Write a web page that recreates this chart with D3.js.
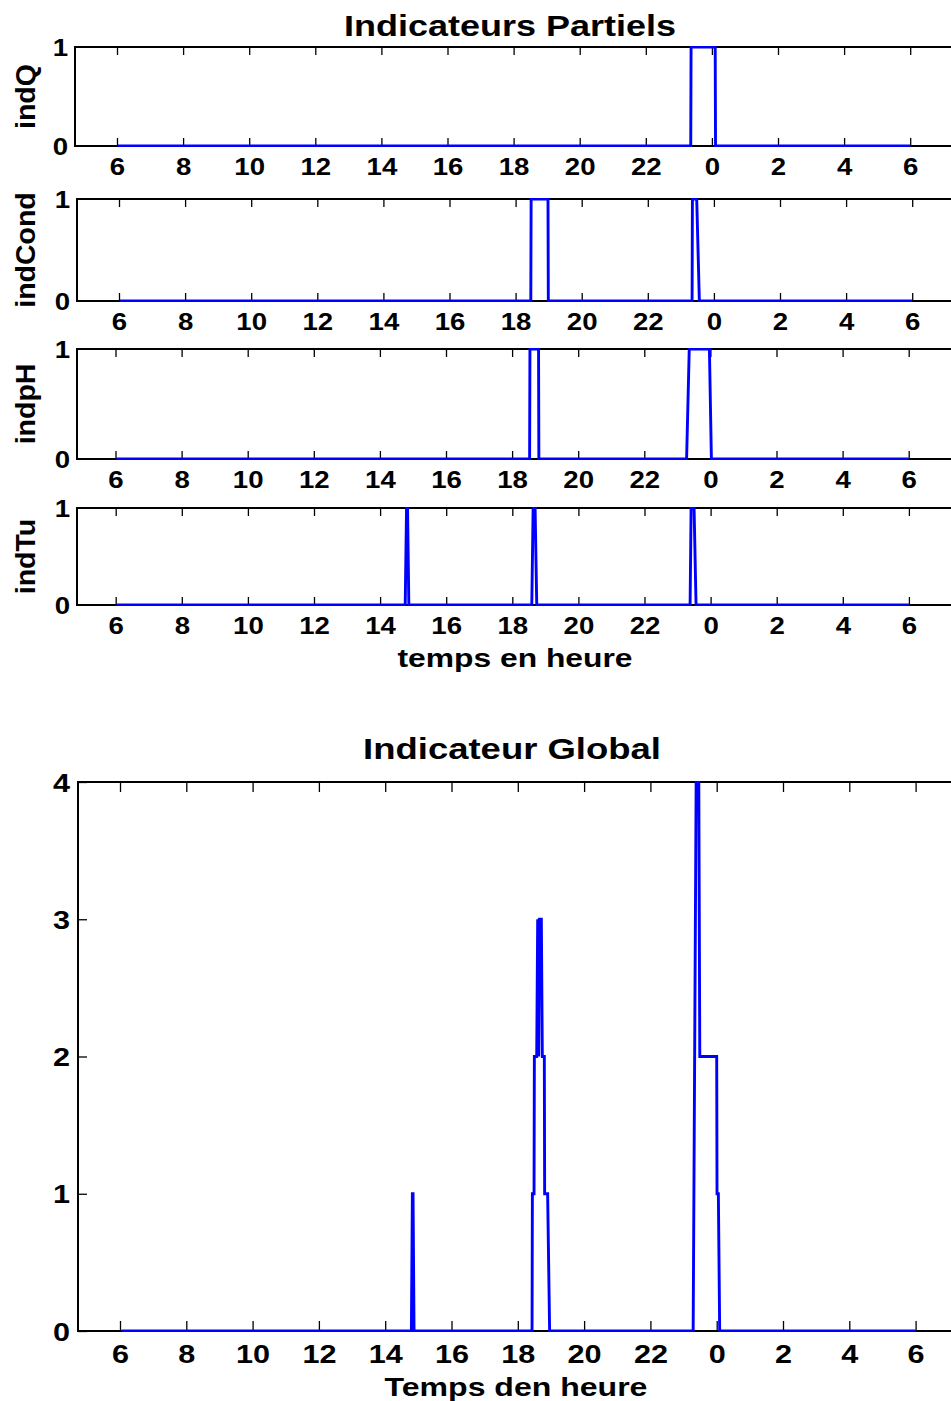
<!DOCTYPE html>
<html><head><meta charset="utf-8">
<script src="https://cdn.jsdelivr.net/npm/d3@7"></script>
<style>
body{margin:0;background:#fff}
svg text{font-family:"Liberation Sans",Arial,Helvetica,sans-serif;font-weight:bold;fill:#000}
</style>
</head><body>
<svg id="c" width="951" height="1401"></svg>
<script>
// ---- data (hours, continuous from 6h to 30h = 6h next day) ----
const tickHours  = [6, 8, 10, 12, 14, 16, 18, 20, 22, 24, 26, 28, 30];
const tickLabels = ["6","8","10","12","14","16","18","20","22","0","2","4","6"];
const partialNames = ["indQ", "indCond", "indpH", "indTu"];
const partialYTicks = [0, 1];
const globalYTicks = [0, 1, 2, 3, 4];

const indQ_t = [6.03, 23.36, 23.37, 24.10, 24.11, 30.0];
const indQ_v = [0,    0,     1,     1,     0,     0];

const indCond_t = [6.03, 18.46, 18.47, 18.98, 18.99, 23.34, 23.35, 23.48, 23.56, 30.0];
const indCond_v = [0,    0,     1,     1,     0,     0,     1,     1,     0,     0];

const indpH_t = [6.03, 18.53, 18.54, 18.80, 18.81, 23.28, 23.36, 23.97, 24.03, 30.0];
const indpH_v = [0,    0,     1,     1,     0,     0,     1,     1,     0,     0];

const indTu_t = [6.03, 14.76, 14.80, 14.83, 14.87, 18.59, 18.63, 18.69, 18.74, 23.38, 23.41, 23.50, 23.56, 30.0];
const indTu_v = [0,    0,     1,     1,     0,     0,     1,     1,     0,     0,     1,     1,     0,     0];

const global_t = [6.05, 14.79, 14.82, 14.84, 14.87, 18.43, 18.44, 18.49, 18.50, 18.57, 18.60, 18.63, 18.65, 18.71, 18.74,
                  18.80, 18.81, 18.90, 18.96, 23.29, 23.38, 23.46, 23.49, 24.00, 24.01, 24.05, 24.09, 30.0];
const global_v = [0,    0,     1,     1,     0,     0,     1,     1,     2,     2,     3,     2,     3,     3,     2,
                  2,     1,     1,     0,     0,     4,     4,     2,     2,     1,     1,     0,     0];

const partialSeries = [[indQ_t, indQ_v], [indCond_t, indCond_v], [indpH_t, indpH_v], [indTu_t, indTu_v]];

// ---- layout ----
const panels = [
  {left: 75, top: 47,  bottom: 146, x6: 117.0},
  {left: 77, top: 199, bottom: 301, x6: 119.0},
  {left: 77, top: 349, bottom: 459, x6: 115.5},
  {left: 77, top: 508, bottom: 605, x6: 115.7}
];
const pxPerHour = 33.05;
const RIGHT = 965;
const SX = 1.2;            // horizontal glyph stretch seen in the reference
const BLUE = "#0000ff";

const svg = d3.select("#c");

function drawPanel(p, tv, vv, yTicks, opts, idx){
  const x = d3.scaleLinear().domain([6, 30]).range([p.x6, p.x6 + 24 * opts.pph]);
  const y = d3.scaleLinear().domain([yTicks[0], yTicks[yTicks.length-1]]).range([p.bottom, p.top]);
  const g = svg.append("g");

  const clipId = "clip" + idx;
  svg.append("clipPath").attr("id", clipId).append("rect")
    .attr("x", p.left).attr("y", p.top - 1).attr("width", RIGHT - p.left).attr("height", p.bottom - p.top + 2);

  // bottom ticks + labels
  const xb = g.append("g").attr("transform", `translate(0,${p.bottom})`)
    .call(d3.axisBottom(x).tickValues(tickHours).tickFormat((d, i) => tickLabels[i])
      .tickSizeInner(-opts.tick).tickSizeOuter(0).tickPadding(opts.xpad));
  xb.select(".domain").remove();
  xb.selectAll(".tick text").attr("font-size", opts.fs).attr("fill", "#000")
    .attr("transform", `scale(${SX},1)`);
  xb.selectAll(".tick line").attr("stroke", "#000").attr("stroke-width", 1.3);

  // top ticks
  const xt = g.append("g").attr("transform", `translate(0,${p.top})`)
    .call(d3.axisTop(x).tickValues(tickHours).tickFormat("").tickSizeInner(-opts.tick).tickSizeOuter(0));
  xt.select(".domain").remove();
  xt.selectAll(".tick line").attr("stroke", "#000").attr("stroke-width", 1.3);

  // left ticks + labels
  const yl = g.append("g").attr("transform", `translate(${p.left},0)`)
    .call(d3.axisLeft(y).tickValues(yTicks).tickFormat(d3.format("d"))
      .tickSizeInner(-opts.ytick).tickSizeOuter(0).tickPadding(opts.ypad));
  yl.select(".domain").remove();
  yl.selectAll(".tick text").attr("font-size", opts.fs).attr("fill", "#000").attr("dy", "0.36em")
    .attr("x", 0).attr("transform", `translate(${-opts.ypad},0) scale(${SX},1)`);
  yl.selectAll(".tick line").attr("stroke", "#000").attr("stroke-width", 1.3);

  // frame (left, top, bottom; right side is outside the picture)
  g.append("path")
    .attr("d", `M${RIGHT},${p.top}H${p.left}V${p.bottom}H${RIGHT}`)
    .attr("fill", "none").attr("stroke", "#000").attr("stroke-width", 2);

  // series
  const pts = tv.map((t, i) => [t, vv[i]]);
  g.append("path").datum(pts)
    .attr("clip-path", `url(#${clipId})`)
    .attr("d", d3.line().x(d => x(d[0])).y(d => y(d[1])))
    .attr("fill", "none").attr("stroke", BLUE).attr("stroke-width", 2.9)
    .attr("stroke-linejoin", "miter");
  return g;
}

const partOpts = {pph: pxPerHour, tick: 8, ytick: 0, xpad: 13, ypad: 7, fs: 23};
panels.forEach((p, i) => {
  drawPanel(p, partialSeries[i][0], partialSeries[i][1], partialYTicks, partOpts, i);
  // rotated y label
  svg.append("text")
    .attr("transform", `translate(35,${(p.top + p.bottom) / 2}) rotate(-90)`)
    .attr("text-anchor", "middle").attr("font-size", 28.5)
    .text(partialNames[i]);
});

// global panel
const gp = {left: 78, top: 782, bottom: 1331, x6: 120.0};
const globOpts = {pph: 33.15, tick: 10, ytick: 9, xpad: 14, ypad: 8, fs: 25.5};
drawPanel(gp, global_t, global_v, globalYTicks, globOpts, 9);

// titles and axis labels
function htext(str, cx, base, fs){
  svg.append("text")
    .attr("transform", `translate(${cx},${base}) scale(${SX},1)`)
    .attr("text-anchor", "middle").attr("font-size", fs).text(str);
}
htext("Indicateurs Partiels", 510, 36, 30);
htext("temps en heure", 515, 667, 26.5);
htext("Indicateur Global", 512, 759, 30.4);
htext("Temps den heure", 516, 1396, 26.7);
</script>
</body></html>
